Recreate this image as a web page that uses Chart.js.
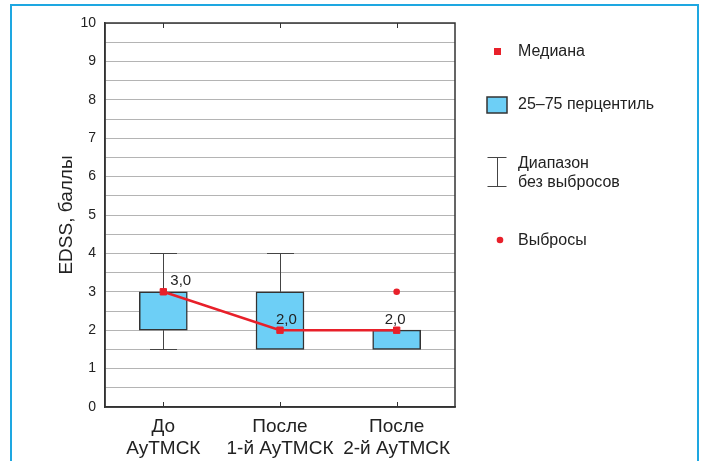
<!DOCTYPE html>
<html>
<head>
<meta charset="utf-8">
<script src="https://cdn.jsdelivr.net/npm/chart.js@4"></script>
<style>
  html, body { margin: 0; padding: 0; background: #fff; }
  #wrap { position: relative; width: 701px; height: 461px; overflow: hidden; }
  #frame { position: absolute; left: 10px; top: 4px; width: 689px; height: 470px;
           border: 2px solid #1ea7e1; box-sizing: border-box; pointer-events: none; }
  canvas { position: absolute; left: 0; top: 0; }
</style>
</head>
<body>
<div id="wrap">
  <canvas id="chart" width="701" height="461"></canvas>
  <div id="frame"></div>
</div>
<script>
// --- данные (EDSS до/после АуТМСК) ---
const categories = [["До", "АуТМСК"], ["После", "1-й АуТМСК"], ["После", "2-й АуТМСК"]];
const q1 = [2, 1.5, 1.5];
const q3 = [3, 3, 2];
const whiskerLow = [1.5, 1.5, 1.5];
const whiskerHigh = [4, 4, 2];
const medians = [3, 2, 2];
const outliers = [null, null, 3];
const medianLabels = ["3,0", "2,0", "2,0"];
const legendLabels = ["Медиана", "25–75 перцентиль", ["Диапазон", "без выбросов"], "Выбросы"];

const FONT = '"Liberation Sans", Arial, sans-serif';
const RED = "#e8202a";
const BLUE = "#6dcff6";
const DARK = "#333333";

// усы, рамка, подписи медиан, легенда
const boxExtras = {
  id: "boxExtras",
  beforeDatasetsDraw(chart){
    const { ctx, scales: { x, y } } = chart;
    ctx.save();
    ctx.strokeStyle = "#444";
    ctx.lineWidth = 1;
    const half = 13.5;
    categories.forEach((c, i) => {
      const cx = Math.round(x.getPixelForValue(i)) + 0.5;
      if (whiskerHigh[i] > q3[i]){
        const yt = Math.round(y.getPixelForValue(whiskerHigh[i])) + 0.5;
        ctx.beginPath();
        ctx.moveTo(cx, y.getPixelForValue(q3[i])); ctx.lineTo(cx, yt);
        ctx.moveTo(cx - half, yt); ctx.lineTo(cx + half, yt);
        ctx.stroke();
      }
      if (whiskerLow[i] < q1[i]){
        const yb = Math.round(y.getPixelForValue(whiskerLow[i])) + 0.5;
        ctx.beginPath();
        ctx.moveTo(cx, y.getPixelForValue(q1[i])); ctx.lineTo(cx, yb);
        ctx.moveTo(cx - half, yb); ctx.lineTo(cx + half, yb);
        ctx.stroke();
      }
    });
    ctx.restore();
  },
  afterDraw(chart){
    const { ctx, chartArea: a, scales: { x, y } } = chart;
    ctx.save();

    // рамка области графика + внутренние засечки
    ctx.strokeStyle = DARK;
    ctx.lineWidth = 1.5;
    ctx.strokeRect(a.left, a.top, a.right - a.left, a.bottom - a.top);
    ctx.lineWidth = 1;
    categories.forEach((c, i) => {
      const cx = Math.round(x.getPixelForValue(i)) + 0.5;
      ctx.beginPath();
      ctx.moveTo(cx, a.top); ctx.lineTo(cx, a.top + 5);
      ctx.moveTo(cx, a.bottom); ctx.lineTo(cx, a.bottom - 5);
      ctx.stroke();
    });

    // подписи медиан
    const dx = [7, -4, -12];
    ctx.fillStyle = "#222";
    ctx.font = "15px " + FONT;
    ctx.textAlign = "left";
    ctx.textBaseline = "middle";
    medians.forEach((m, i) => {
      ctx.fillText(medianLabels[i], x.getPixelForValue(i) + dx[i], y.getPixelForValue(m) - 10.5);
    });

    // легенда
    const lx = 497, tx = 518;
    ctx.font = "16px " + FONT;
    ctx.fillStyle = RED;
    ctx.fillRect(lx - 3, 48, 7, 7);
    ctx.fillStyle = "#222";
    ctx.fillText(legendLabels[0], tx, 52);

    ctx.fillStyle = BLUE;
    ctx.fillRect(487, 97, 20, 16);
    ctx.strokeStyle = DARK;
    ctx.lineWidth = 1.5;
    ctx.strokeRect(487, 97, 20, 16);
    ctx.fillStyle = "#222";
    ctx.fillText(legendLabels[1], tx, 105);

    ctx.strokeStyle = "#444";
    ctx.lineWidth = 1;
    ctx.beginPath();
    ctx.moveTo(487.5, 157.5); ctx.lineTo(506.5, 157.5);
    ctx.moveTo(497.5, 157.5); ctx.lineTo(497.5, 186.5);
    ctx.moveTo(487.5, 186.5); ctx.lineTo(506.5, 186.5);
    ctx.stroke();
    ctx.fillText(legendLabels[2][0], tx, 164);
    ctx.fillText(legendLabels[2][1], tx, 183);

    ctx.fillStyle = RED;
    ctx.beginPath();
    ctx.arc(500, 240, 3.3, 0, Math.PI * 2);
    ctx.fill();
    ctx.fillStyle = "#222";
    ctx.fillText(legendLabels[3], tx, 241);

    ctx.restore();
  }
};

new Chart(document.getElementById("chart"), {
  type: "bar",
  data: {
    labels: categories,
    datasets: [
      {
        type: "line",
        data: medians,
        borderColor: RED,
        backgroundColor: RED,
        borderWidth: 2.5,
        pointStyle: "rect",
        pointRadius: 4.5,
        pointBorderWidth: 1,
        order: 1
      },
      {
        type: "line",
        data: outliers,
        showLine: false,
        borderColor: RED,
        backgroundColor: RED,
        pointStyle: "circle",
        pointRadius: 3.3,
        pointBorderWidth: 0,
        order: 0
      },
      {
        data: q1.map((v, i) => [v, q3[i]]),
        backgroundColor: BLUE,
        borderColor: DARK,
        borderWidth: 1.5,
        borderSkipped: false,
        barThickness: 48,
        order: 2
      }
    ]
  },
  options: {
    responsive: false,
    animation: false,
    events: [],
    layout: { padding: { left: 0, top: 23, right: 246, bottom: 0 } },
    plugins: { legend: { display: false }, tooltip: { enabled: false } },
    scales: {
      x: {
        grid: { display: false },
        border: { display: true, color: DARK, width: 1.5 },
        ticks: { color: "#222", font: { family: FONT, size: 19, lineHeight: 1.16 }, padding: 1, maxRotation: 0 },
        afterFit(s){ s.height = 54; }
      },
      y: {
        min: 0,
        max: 10,
        grid: { color: "#b4b4b4", lineWidth: 1, drawTicks: false },
        border: { display: true, color: DARK, width: 1.5 },
        ticks: {
          stepSize: 0.5,
          autoSkip: false,
          padding: 9,
          color: "#222",
          font: { family: FONT, size: 14 },
          callback: v => (v % 1 === 0 ? v : "")
        },
        title: {
          display: true,
          text: "EDSS, баллы",
          color: "#222",
          font: { family: FONT, size: 19 },
          padding: { top: 55, bottom: 0 }
        },
        afterFit(s){ s.width = 105; }
      }
    }
  },
  plugins: [boxExtras]
});
</script>
</body>
</html>
